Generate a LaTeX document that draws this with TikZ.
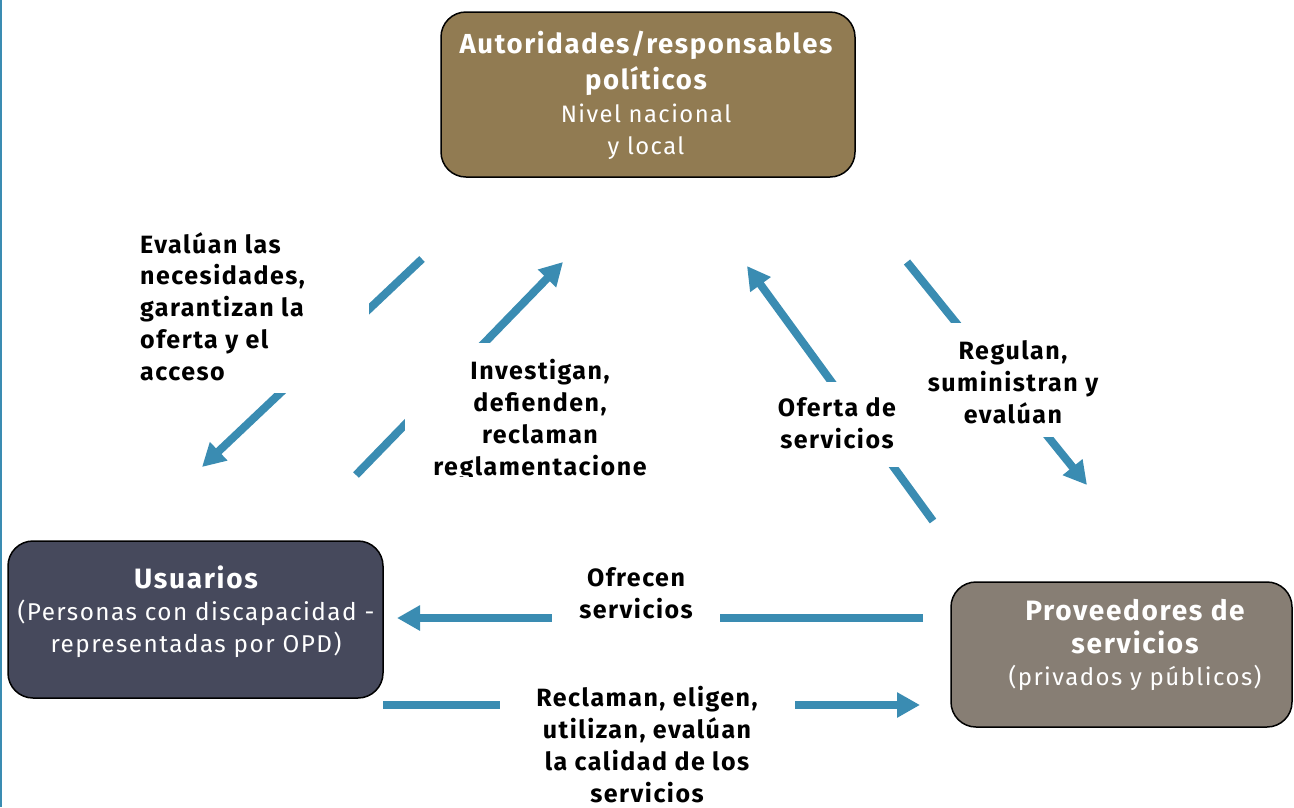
\documentclass[tikz,border=0pt]{standalone}
\usepackage{fontspec}
\setmainfont{Fira Sans}[LetterSpace=6]
\usetikzlibrary{arrows.meta}
\definecolor{flow}{HTML}{3A8CB2}
\definecolor{authfill}{HTML}{917B52}
\definecolor{usufill}{HTML}{46495C}
\definecolor{provfill}{HTML}{877E74}
\newcommand{\lblfont}{\fontsize{25}{31.7}\selectfont\bfseries}
\tikzset{
  flowarrow/.style={draw=flow, line width=8pt, -{Triangle[length=23pt,width=24pt]}},
  actorbox/.style={draw=black, line width=1.5pt, rounded corners=25pt, inner sep=0pt},
  boxtext/.style={text=white, align=center, inner sep=0pt},
  lbltext/.style={text=black, inner sep=0pt, font=\lblfont},
  mask/.style={fill=white}
}
\begin{document}
\begin{tikzpicture}[x=1pt,y=-1pt]
\useasboundingbox (0,0) rectangle (1294,807);
% left edge rule
\draw[flow, line width=1.6pt] (0.8,0) -- (0.8,807);

% actor boxes
\node[actorbox, fill=authfill, minimum width=414pt, minimum height=165pt] (auth) at (648,94.5) {};
\node[actorbox, fill=usufill, minimum width=375pt, minimum height=157pt] (usu) at (195.5,619.5) {};
\node[actorbox, fill=provfill, minimum width=341pt, minimum height=145pt] (prov) at (1121.5,654.5) {};

% connector end points
\coordinate (a1s) at (422,259);  \coordinate (a1e) at (202,467);
\coordinate (a2s) at (356,475);  \coordinate (a2e) at (563,262);
\coordinate (a3s) at (933,521);  \coordinate (a3e) at (747,266);
\coordinate (a4s) at (907,262);  \coordinate (a4e) at (1087,485);
\coordinate (a5s) at (923,618);  \coordinate (a5e) at (397,618);
\coordinate (a6s) at (383,705);  \coordinate (a6e) at (920,705);

\draw[flowarrow] (a1s) -- (a1e);
\draw[flowarrow] (a2s) -- (a2e);
\draw[flowarrow] (a3s) -- (a3e);
\draw[flowarrow] (a4s) -- (a4e);
\draw[flowarrow] (a5s) -- (a5e);
\draw[flowarrow] (a6s) -- (a6e);

% gaps in the connectors where the labels sit
\fill[mask] (130,215) rectangle (369,393);
\fill[mask] (405,343) rectangle (700,480);
\fill[mask] (770,382) rectangle (905,467);
\fill[mask] (920,323) rectangle (1110,437);
\fill[mask] (552,555) rectangle (720,650);
\fill[mask] (500,675) rectangle (795,807);

% box texts (anchored on the baseline of their last line)
\node[boxtext, anchor=base, font=\fontsize{23.8}{32}\selectfont] (authtext) at (646,154)
  {\fontsize{27.5}{32}\selectfont\bfseries Autoridades/responsables\\[4pt]
   \fontsize{27.5}{32}\selectfont\bfseries políticos\\[1pt]
   Nivel nacional\\ y local};
\node[boxtext, anchor=base, font=\fontsize{24.3}{32}\selectfont] (usutext) at (196,652)
  {\fontsize{28}{32}\selectfont\bfseries Usuarios\\
   (Personas con discapacidad -\\ representadas por OPD)};
\node[boxtext, anchor=base, font=\fontsize{24}{32}\selectfont] (provtext) at (1135,685)
  {\fontsize{28}{32}\selectfont\bfseries Proveedores de\\[1pt]
   \fontsize{28}{32}\selectfont\bfseries servicios\\
   (privados y públicos)};

% connector labels
\node[lbltext, anchor=base west, align=left] (l1) at (140,380)
  {Evalúan las\\ necesidades,\\ garantizan la\\ oferta y el\\ acceso};
\begin{scope}
\clip (380,330) rectangle (720,476.5);
\node[lbltext, anchor=base, align=center] (l2) at (540,475)
  {Investigan,\\ defienden,\\ reclaman\\ reglamentacione};
\end{scope}
\node[lbltext, anchor=base, align=center] (l3) at (837,448)
  {Oferta de\\ servicios};
\node[lbltext, anchor=base, align=center] (l4) at (1013,423)
  {Regulan,\\ suministran y\\ evalúan};
\node[lbltext, anchor=base, align=center] (l5) at (636,618)
  {Ofrecen\\ servicios};
\node[lbltext, anchor=base, align=center] (l6) at (647,802)
  {Reclaman, eligen,\\ utilizan, evalúan\\ la calidad de los\\ servicios};
\end{tikzpicture}
\end{document}
